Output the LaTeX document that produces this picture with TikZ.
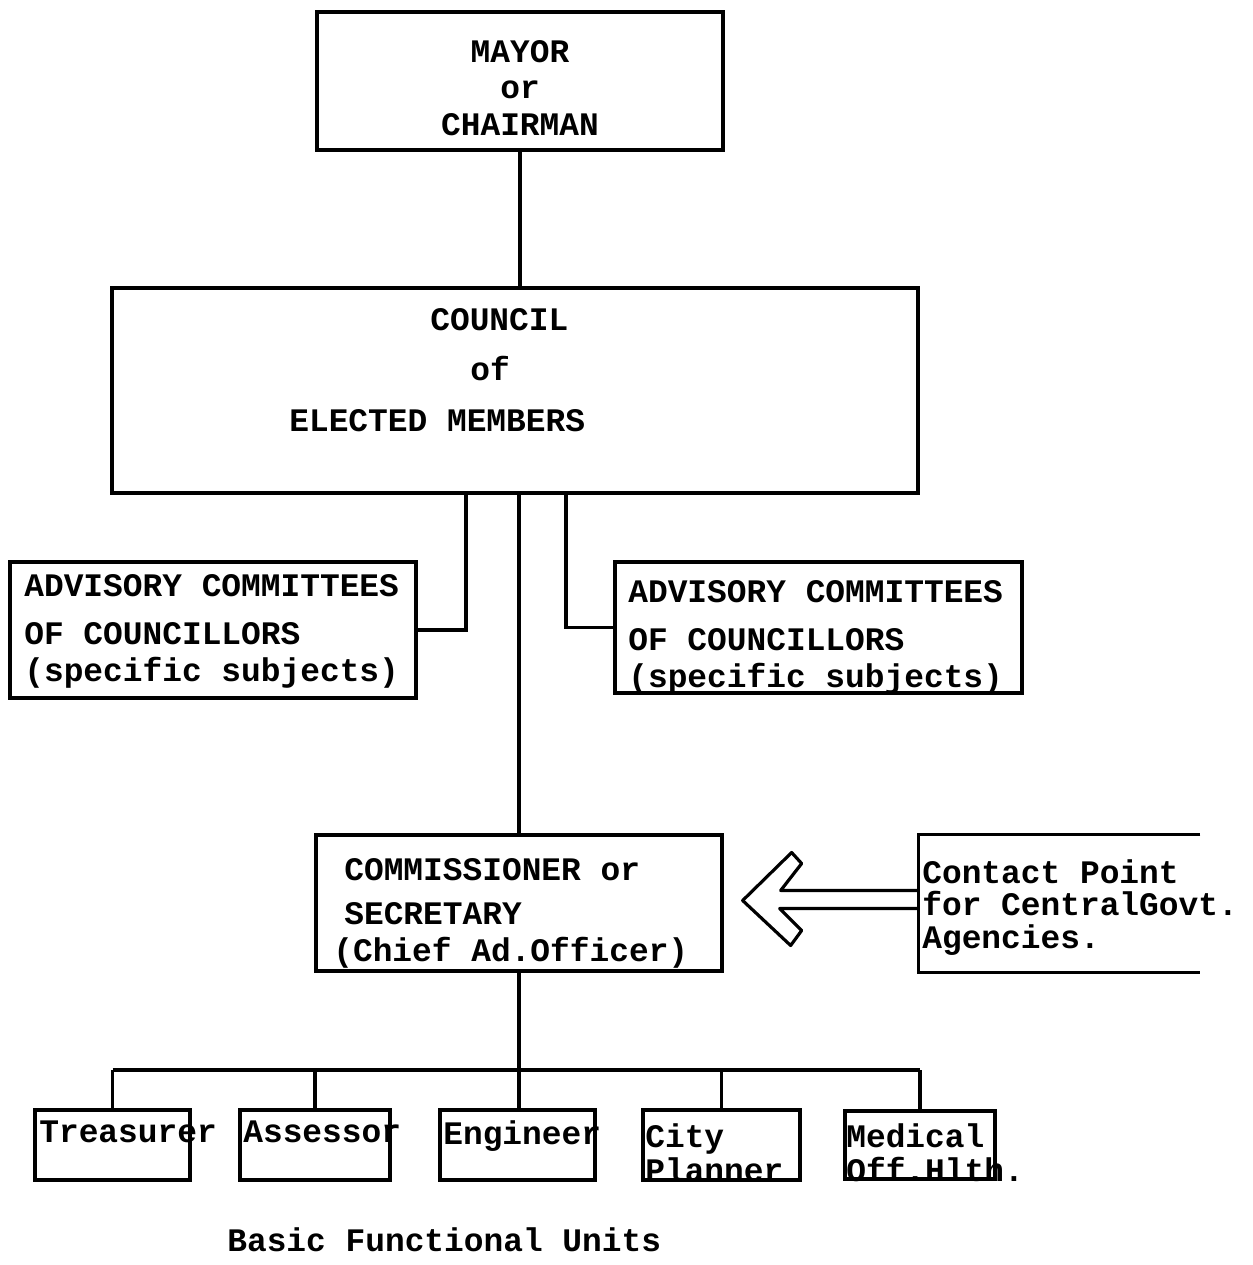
\documentclass[tikz,border=0pt]{standalone}
\usepackage{fontspec}
\setmainfont{Liberation Mono}
\usepackage{tikz}
\usetikzlibrary{
    fit,
    calc
}
\tikzset{
  unit/.style  = {draw, line width=1.8pt, inner sep=0pt},
  frame/.style = {inner sep=0pt},
  txt/.style   = {inner sep=0pt, align=left,
                  font=\fontsize{18.7pt}{20.5pt}\selectfont\bfseries},
  link/.style  = {line width=1.8pt}
}

\begin{document}
\begin{tikzpicture}[x=0.02cm, y=-0.02cm]
\useasboundingbox (0,0) rectangle (1253,1265);
\node[unit,fit={(317,12) (723,150)}]    (Mayor)   {};
\node[unit,fit={(112,288) (918,493)}]   (Council) {};
\node[unit,fit={(10,562) (416,698)}]    (AdvL)    {};
\node[unit,fit={(615,562) (1022,693)}]  (AdvR)    {};
\node[unit,fit={(316,835) (722,971)}]   (Comm)    {};
\node[frame,fit={(919,835) (1200,972)}] (Contact) {};
\node[unit,fit={(35,1110) (190,1180)}]  (Tr)      {};
\node[unit,fit={(240,1110) (390,1180)}] (As)      {};
\node[unit,fit={(440,1110) (595,1180)}] (En)      {};
\node[unit,fit={(643,1110) (800,1180)}] (Pl)      {};
\node[unit,fit={(845,1111) (995,1179)}] (Med)     {};
% texts sit on the baseline of their last line
\node[txt,align=center,anchor=base] (MayorT) at (520,135) {MAYOR\\or\\CHAIRMAN};
\node[txt,anchor=base west] (CouncilT) at (289,431)
    {\hspace*{2.82cm}COUNCIL\\[8pt]\hspace*{3.62cm}of\\[8pt]ELECTED MEMBERS};
\node[txt,anchor=base west] (AdvLT) at (24,681)
    {ADVISORY COMMITTEES\\[7pt]OF COUNCILLORS\\(specific subjects)};
\node[txt,anchor=base west] (AdvRT) at (628,687)
    {ADVISORY COMMITTEES\\[7pt]OF COUNCILLORS\\(specific subjects)};
\node[txt,anchor=base west] (CommT) at (333,961)
    {\hspace*{0.22cm}COMMISSIONER or\\[5pt]\hspace*{0.22cm}SECRETARY\\(Chief Ad.Officer)};
\node[txt,anchor=base west] (ContactT) at (922,948)
    {Contact Point\\[-2pt]for CentralGovt.\\[-2pt]Agencies.};
\node[txt,anchor=base west] (TrT) at (39,1142) {Treasurer};
\node[txt,anchor=base west] (AsT) at (243,1142) {Assessor};
\node[txt,anchor=base west] (EnT) at (443,1144) {Engineer};
\node[txt,anchor=base west] (PlT) at (645,1181) {City\\[-1.7pt]Planner};
\node[txt,anchor=base west] (MedT) at (846,1181) {Medical\\[-1.7pt]Off.Hlth.};
\node[txt,anchor=base west] (Title) at (227,1251) {Basic Functional Units};
\coordinate (jl)  at (466,493);
\coordinate (jr)  at (566,493);
\coordinate (bus) at (519,1070);
\draw[link] (Mayor.south) -- (Mayor.south |- Council.north);
\draw[link] (Council.south -| Comm.north) -- (Comm.north);
\draw[link] (jl) |- (AdvL.east);
\draw[link] (jr) |- (AdvR.west);
\draw[link] (Contact.north east) -- (Contact.north west) -- (Contact.south west) -- (Contact.south east);
\draw[link,line join=round] (Contact.west) ++(0,-13) -- ++(-138,0) -- ++(21,-27) -- ++(-10,-11)
    -- ++(-49,48) -- ++(48,45) -- ++(11,-15) -- ++(-22,-22) -- ++(139,0);
\draw[link] (Comm.south) -- (Comm.south |- En.north);
\draw[link] (Tr.north |- bus) -- (Med.north |- bus);
\draw[link] (Tr.north) -- (Tr.north |- bus);
\draw[link] (As.north) -- (As.north |- bus);
\draw[link] (Pl.north) -- (Pl.north |- bus);
\draw[link] (Med.north) -- (Med.north |- bus);
\end{tikzpicture}
\end{document}
